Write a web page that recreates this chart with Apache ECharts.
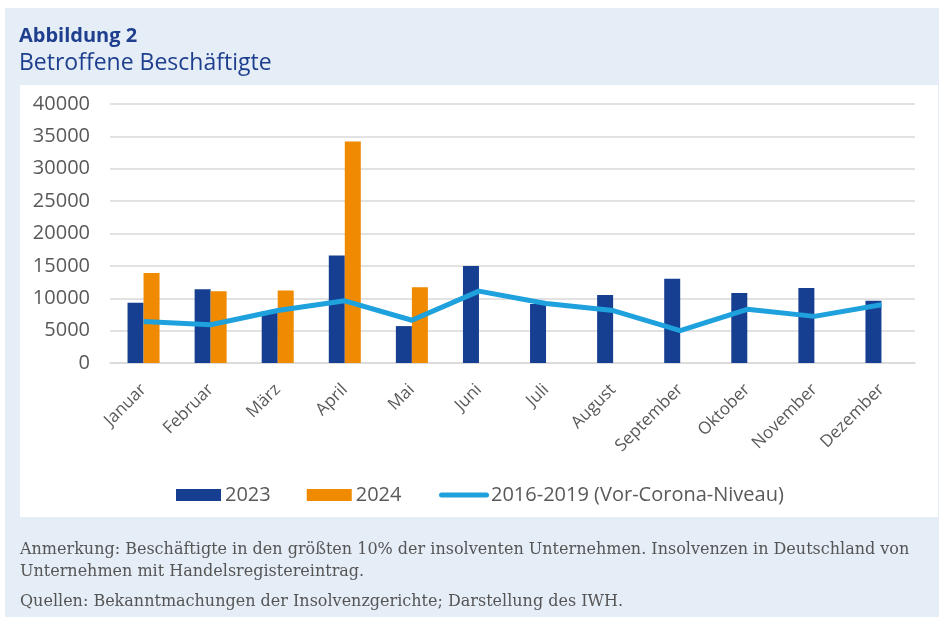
<!DOCTYPE html>
<html>
<head>
<meta charset="utf-8">
<script src="https://cdn.jsdelivr.net/npm/echarts@6/dist/echarts.min.js"></script>
<style>
html,body{margin:0;padding:0;background:#fff;}
#chart{width:941px;height:617px;}
</style>
</head>
<body>
<div id="chart"></div>
<script>
var categories = ['Januar','Februar','März','April','Mai','Juni','Juli','August','September','Oktober','November','Dezember'];
var values2023 = [9300, 11400, 8000, 16600, 5700, 15000, 9100, 10500, 13000, 10800, 11600, 9600];
var values2024 = [13900, 11100, 11200, 34200, 11700, null, null, null, null, null, null, null];
var valuesPreCorona = [6400, 5900, 8100, 9600, 6600, 11100, 9200, 8100, 5000, 8300, 7200, 9000];
var yTicks = { min: 0, max: 40000, interval: 5000 };
var seriesNames = ['2023', '2024', '2016-2019 (Vor-Corona-Niveau)'];
var titleTop = 'Abbildung 2';
var titleMain = 'Betroffene Beschäftigte';
var noteLines = [
  'Anmerkung: Beschäftigte in den größten 10% der insolventen Unternehmen. Insolvenzen in Deutschland von',
  'Unternehmen mit Handelsregistereintrag.',
  'Quellen: Bekanntmachungen der Insolvenzgerichte; Darstellung des IWH.'
];

var FONT = 'Open Sans';
var GREY = '#595959';
var NOTE_FONT = '16px "DejaVu Serif"';
var chart = echarts.init(document.getElementById('chart'), null, {renderer: 'canvas'});
chart.setOption({
  animation: false,
  backgroundColor: '#ffffff',
  graphic: [
    {type: 'rect', z: -10, shape: {x: 5, y: 8, width: 934, height: 609}, style: {fill: '#e5edf7'}},
    {type: 'rect', z: -9, shape: {x: 20, y: 85, width: 918, height: 432}, style: {fill: '#ffffff'}},
    {type: 'text', left: 19, top: 26, style: {text: titleTop, font: 'bold 20px "' + FONT + '"', fill: '#1e3f8e'}},
    {type: 'text', left: 19, top: 52, style: {text: titleMain, font: '23px "' + FONT + '"', fill: '#1e3f8e'}},
    {type: 'text', left: 20, top: 542, style: {text: noteLines[0], font: NOTE_FONT, fill: '#555555'}},
    {type: 'text', left: 20, top: 564, style: {text: noteLines[1], font: NOTE_FONT, fill: '#555555'}},
    {type: 'text', left: 20, top: 594, style: {text: noteLines[2], font: NOTE_FONT, fill: '#555555'}}
  ],
  grid: {left: 110, right: 26, top: 104, bottom: 254, containLabel: false},
  legend: [
    {
      top: 485, left: 176, padding: 0,
      itemWidth: 45, itemHeight: 12, itemGap: 36,
      textStyle: {color: GREY, fontSize: 20, fontFamily: FONT, padding: [0,0,0,-1]},
      data: [
        {name: seriesNames[0], icon: 'rect'},
        {name: seriesNames[1], icon: 'rect'}
      ]
    },
    {
      top: 485, left: 439, padding: 0,
      itemWidth: 50, itemHeight: 12,
      textStyle: {color: GREY, fontSize: 20, fontFamily: FONT, padding: [0,0,0,-3]},
      data: [
        {name: seriesNames[2], icon: 'path://M2.5,0 L47.5,0 A2.5,2.5 0 0 1 47.5,5 L2.5,5 A2.5,2.5 0 0 1 2.5,0 Z M0,-3.5 L0,-3.5 M0,8.5 L0,8.5'}
      ]
    }
  ],
  xAxis: {
    type: 'category',
    data: categories,
    axisLine: {show: true, lineStyle: {color: '#d9d9d9', width: 1.5}},
    axisTick: {show: false},
    axisLabel: {rotate: 45, color: GREY, fontSize: 17, fontFamily: FONT, margin: 24, interval: 0}
  },
  yAxis: {
    type: 'value',
    min: yTicks.min, max: yTicks.max, interval: yTicks.interval,
    axisLine: {show: false},
    axisTick: {show: false},
    splitLine: {lineStyle: {color: '#d9d9d9', width: 1.5}},
    axisLabel: {color: GREY, fontSize: 20, fontFamily: FONT, margin: 20, formatter: function (v) { return String(v); }}
  },
  series: [
    {name: seriesNames[0], type: 'bar', data: values2023, barWidth: 16, barGap: '0%',
     itemStyle: {color: '#163f91'}},
    {name: seriesNames[1], type: 'bar', data: values2024, barWidth: 16, barGap: '0%',
     itemStyle: {color: '#f08a00'}},
    {name: seriesNames[2], type: 'line', data: valuesPreCorona, showSymbol: false, symbol: 'none',
     lineStyle: {color: '#1ea1dc', width: 5}, itemStyle: {color: '#1ea1dc'}, z: 5}
  ]
});
</script>
</body>
</html>
